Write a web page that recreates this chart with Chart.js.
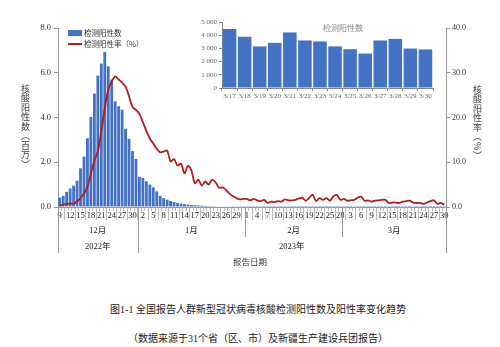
<!DOCTYPE html>
<html>
<head>
<meta charset="utf-8">
<script src="https://cdn.jsdelivr.net/npm/chart.js@4.4.1/dist/chart.umd.min.js"></script>
<style>
html,body{margin:0;padding:0;background:#fff}
#page{position:relative;width:500px;height:347px;overflow:hidden;font-family:"Noto Sans CJK SC",sans-serif;color:#333}
#mainChart{position:absolute;left:0;top:0}
#insetChart{position:absolute;left:190px;top:12px;background:#fff}
.legend{position:absolute;left:68px;top:27px;font-size:7.5px;line-height:11px;color:#333}
.legend div{display:flex;align-items:center;white-space:nowrap}
.legend .box{display:inline-block;width:14px;height:6px;background:#4472C4;margin-right:2px}
.legend .ln{display:inline-block;width:14px;height:0;border-top:2px solid #B01E1E;margin-right:2px}
.vtitle{position:absolute;writing-mode:vertical-rl;font-size:9px;letter-spacing:0.5px;line-height:10px;color:#444}
.insetTitle{position:absolute;left:323px;top:22px;font-size:8px;color:#888}
.xtitle{position:absolute;left:233px;top:255px;font-size:8.5px;color:#333}
.caption{position:absolute;left:8px;width:500px;text-align:center;font-family:"Liberation Serif","Noto Sans CJK SC",serif;font-size:10px;color:#222}
</style>
</head>
<body>
<div id="page">

<canvas id="mainChart" width="500" height="270"></canvas>
<canvas id="insetChart" width="250" height="90"></canvas>

<div class="legend">
<div><span class="box"></span>检测阳性数</div>
<div><span class="ln"></span>检测阳性率（%）</div>
</div>

<div class="insetTitle">检测阳性数</div>

<div class="vtitle" style="left:20px;top:84px">核酸阳性数（百万）</div>
<div class="vtitle" style="left:472px;top:85px">核酸阳性率（%）</div>

<div class="xtitle">报告日期</div>

<div class="caption" style="top:301px">图1-1 全国报告人群新型冠状病毒核酸检测阳性数及阳性率变化趋势</div>
<div class="caption" style="top:330px">（数据来源于31个省（区、市）及新疆生产建设兵团报告）</div>

</div>

<script>

/* ---------------- DATA ---------------- */

const monthNames = ["12月","1月","2月","3月"]
const monthFirstDay = [9,1,1,1]
const monthLastDay = [31,31,28,30]

const yearNames = ["2022年","2023年"]
const yearMonthCount = [1,3]

// daily positives, millions (Dec 9 - Mar 16)
const positiveCounts = [
0.42,0.50,0.68,0.83,0.95,1.18,1.73,2.25,3.07,4.02,5.07,5.87,6.41,6.93,6.29,5.69,4.72,4.50,4.35,3.50,3.05,2.50,2.15,
1.35,1.30,1.15,1.00,0.88,0.70,0.50,0.40,0.33,0.27,0.22,0.18,0.15,0.13,0.11,0.09,0.08,0.07,0.06,0.05,0.04,0.035,0.03,0.025,0.02,0.018,0.015,0.013,0.011,0.010,0.009,
0.008,0.007,0.007,0.006,0.006,0.006,0.005,0.005,0.005,0.005,0.005,0.0045,0.0045,0.0042,0.0042,0.004,0.004,0.0041,0.0043,0.0045,0.0046,0.0044,0.0042,0.0043,0.0045,0.0047,0.0048,0.0046,
0.0045,0.0044,0.0043,0.0046,0.0048,0.005,0.0047,0.0045,0.0044,0.0043,0.0045,0.0046,0.0044,0.0042,0.0043,0.0044
]

// positive rate, %
const positiveRate = [
0.3,0.5,0.7,0.75,0.75,1.3,2.0,3.0,4.5,7.5,10.3,12.5,17.0,22.0,26.2,28.0,29.2,28.5,27.8,26.9,24.8,22.3,21.7,
20.8,19.0,17.0,15.3,14.2,13.0,12.2,12.4,12.6,10.2,10.7,9.3,9.7,7.5,9.2,8.2,5.3,6.1,4.8,5.7,5.0,6.1,5.5,4.3,4.4,3.8,3.0,2.4,2.0,1.7,1.8,
1.8,1.5,1.8,1.5,1.3,1.6,0.9,1.2,1.1,1.3,1.2,1.7,1.5,1.5,1.6,1.9,2.1,1.4,2.0,2.75,1.3,2.0,1.6,2.0,1.4,2.4,2.7,1.6,
1.8,1.4,1.5,1.6,2.1,2.3,1.4,1.5,1.2,1.4,1.5,1.6,1.6,0.9,1.0,1.0,0.9,1.2,1.3,1.4,1.0,0.9,0.9,0.7,1.0,1.3,1.5,0.7,0.9,0.5
]

// inset: daily positives Mar 17 - Mar 30
const insetDates = ["3/17","3/18","3/19","3/20","3/21","3/22","3/23","3/24","3/25","3/26","3/27","3/28","3/29","3/30"]
const insetCounts = [4470,3880,3150,3420,4210,3600,3530,3150,2940,2610,3600,3720,2990,2920]

const leftTicks = [0,2,4,6,8]
const rightTicks = [0,10,20,30,40]
const insetTicks = [0,1000,2000,3000,4000,5000]


/* ---------------- CATEGORIES ---------------- */

const dayLabels = []
const monthStarts = []

monthNames.forEach((m,mi)=>{
monthStarts.push(dayLabels.length)
for(let d=monthFirstDay[mi]; d<=monthLastDay[mi]; d++){
dayLabels.push(String(d))
}
})
monthStarts.push(dayLabels.length)

const allCounts = positiveCounts.concat(insetCounts.map(v=>v/1e6))


/* ---------------- MONTH / YEAR ROWS ---------------- */

const dateRows = {

id:"dateRows",

afterDraw(chart){

const x = chart.scales.x
const ctx = chart.ctx
const bottom = chart.chartArea.bottom

const edge = i => {
if(i<=0) return x.left
if(i>=dayLabels.length) return x.right
return (x.getPixelForValue(i-1)+x.getPixelForValue(i))/2
}

ctx.save()
ctx.strokeStyle = "#999"
ctx.lineWidth = 1

// year boundaries run through both rows
const yearEdges = [0]
let m = 0
yearMonthCount.forEach(c=>{ m += c; yearEdges.push(m) })

monthStarts.forEach((s,i)=>{
const px = Math.round(edge(s))+0.5
const long = yearEdges.includes(i)
ctx.beginPath()
ctx.moveTo(px,bottom)
ctx.lineTo(px,bottom+(long?46:30))
ctx.stroke()
})

ctx.fillStyle = "#222"
ctx.font = '8.5px "Liberation Serif","Noto Sans CJK SC"'
ctx.textAlign = "center"
ctx.textBaseline = "middle"

monthNames.forEach((name,i)=>{
const cx = (edge(monthStarts[i])+edge(monthStarts[i+1]))/2
ctx.fillText(name,cx,bottom+24)
})

yearNames.forEach((name,i)=>{
const a = monthStarts[yearEdges[i]]
const b = monthStarts[yearEdges[i+1]]
ctx.fillText(name,(edge(a)+edge(b))/2,bottom+40)
})

ctx.restore()

}

}


/* ---------------- MAIN CHART ---------------- */

Chart.defaults.font.family = '"Liberation Serif",serif'

new Chart(document.getElementById("mainChart"),{

data:{
labels:dayLabels,
datasets:[
{
type:"line",
label:"检测阳性率（%）",
data:positiveRate,
yAxisID:"y1",
borderColor:"#B01E1E",
borderWidth:1.8,
pointRadius:0,
tension:0.3,
order:0
},
{
type:"bar",
label:"检测阳性数",
data:allCounts,
yAxisID:"y",
backgroundColor:"#4472C4",
barPercentage:0.82,
categoryPercentage:1,
order:1
}
]
},

options:{
responsive:false,
animation:false,
layout:{padding:{top:28,left:0,right:0,bottom:0}},
plugins:{legend:{display:false},tooltip:{enabled:false}},

scales:{

x:{
offset:true,
grid:{drawOnChartArea:false,offset:true,tickLength:13,color:"#aaa",lineWidth:0.8},
border:{color:"#999"},
ticks:{
autoSkip:false,maxRotation:0,minRotation:0,padding:-9,
font:{size:8.5},color:"#222",
showLabelBackdrop:true,backdropColor:"#fff",backdropPadding:0,
callback:(v,i)=> i%3===0 ? dayLabels[i] : ""
},
afterFit:s=>{ s.height = 63 }
},

y:{
position:"left",
min:0,max:8,
afterBuildTicks:s=>{ s.ticks = leftTicks.map(v=>({value:v})) },
ticks:{callback:v=>v.toFixed(1),font:{size:8.5},color:"#333",padding:3},
grid:{drawOnChartArea:false,tickLength:4,color:"#999"},
border:{color:"#999"},
afterFit:s=>{ s.width = 58 }
},

y1:{
position:"right",
min:0,max:40,
afterBuildTicks:s=>{ s.ticks = rightTicks.map(v=>({value:v})) },
ticks:{callback:v=>v.toFixed(1),font:{size:8},color:"#333",padding:2},
grid:{drawOnChartArea:false,tickLength:4,color:"#999"},
border:{color:"#999"},
afterFit:s=>{ s.width = 54 }
}

}
},

plugins:[dateRows]

})


/* ---------------- INSET ---------------- */

new Chart(document.getElementById("insetChart"),{

type:"bar",

data:{
labels:insetDates,
datasets:[{
data:insetCounts,
backgroundColor:"#4472C4",
barPercentage:0.9,
categoryPercentage:1
}]
},

options:{
responsive:false,
animation:false,
layout:{padding:{top:10,right:7,left:0,bottom:0}},
plugins:{legend:{display:false},tooltip:{enabled:false}},

scales:{

x:{
grid:{drawOnChartArea:false,offset:true,tickLength:3,color:"#888"},
border:{color:"#888"},
ticks:{autoSkip:false,maxRotation:0,font:{size:7},color:"#666",padding:1},
afterFit:s=>{ s.height = 14 }
},

y:{
min:0,max:5000,
afterBuildTicks:s=>{ s.ticks = insetTicks.map(v=>({value:v})) },
ticks:{
callback:v=> v===0 ? "0" : (v/1000)+" 000",
font:{size:7},color:"#666",padding:2
},
grid:{drawOnChartArea:false,tickLength:3,color:"#888"},
border:{color:"#888"},
afterFit:s=>{ s.width = 32 }
}

}
}

})

</script>
</body>
</html>
